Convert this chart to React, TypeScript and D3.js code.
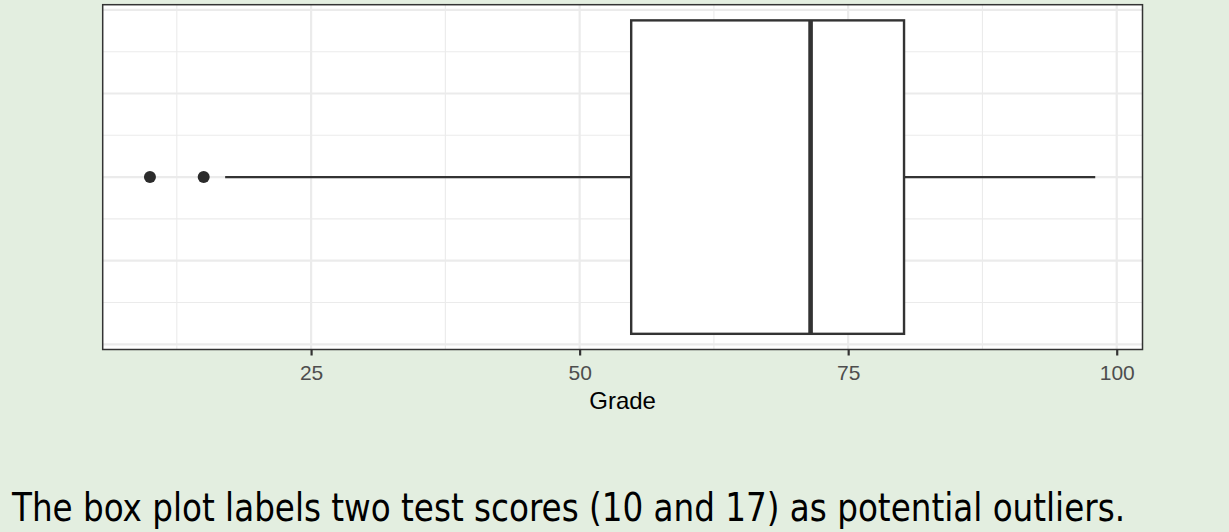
import React, { useRef, useEffect } from "react";
import * as d3 from "d3";

// box plot summary
const outliers = [10, 15];
const whiskerLow = 17;
const q1 = 54.8;
const median = 71.5;
const q3 = 80.2;
const whiskerHigh = 98;
const xMajorTicks = [25, 50, 75, 100];
const xMinorTicks = [12.5, 37.5, 62.5, 87.5];
const yMajorTicks = [-0.4, -0.2, 0, 0.2, 0.4];
const yMinorTicks = [-0.3, -0.1, 0.1, 0.3];
const xLabel = "Grade";
const caption = "The box plot labels two test scores (10 and 17) as potential outliers.";

const App = () => {
    const ref = useRef<SVGSVGElement>(null);

    useEffect(() => {
        const svgWidth = 1229;
        const svgHeight = 532;
        const panel = { left: 102.7, right: 1142.5, top: 4.7, bottom: 349.5 };
        const bg = "#e3eee0";
        const gridColor = "#ebebeb";
        const darkColor = "#333333";
        const sansFont = "'Liberation Sans', Arial, sans-serif";

        const svg = d3.select(ref.current)
            .attr("width", svgWidth)
            .attr("height", svgHeight);
        svg.selectAll("*").remove();

        svg.append("rect")
            .attr("width", svgWidth)
            .attr("height", svgHeight)
            .attr("fill", bg);

        // data range 10..98 with ggplot's 5% expansion
        const lo = d3.min([...outliers, whiskerLow]) as number;
        const pad = (whiskerHigh - lo) * 0.05;
        const xScale = d3.scaleLinear()
            .domain([lo - pad, whiskerHigh + pad])
            .range([panel.left, panel.right]);

        const yScale = d3.scaleLinear()
            .domain([-0.4125, 0.4125])
            .range([panel.bottom, panel.top]);

        svg.append("rect")
            .attr("x", panel.left)
            .attr("y", panel.top)
            .attr("width", panel.right - panel.left)
            .attr("height", panel.bottom - panel.top)
            .attr("fill", "white");

        // grid lines
        const grid = svg.append("g");
        grid.selectAll(".vminor").data(xMinorTicks).join("line")
            .attr("x1", d => xScale(d)).attr("x2", d => xScale(d))
            .attr("y1", panel.top).attr("y2", panel.bottom)
            .attr("stroke", gridColor).attr("stroke-width", 1.1);
        grid.selectAll(".hminor").data(yMinorTicks).join("line")
            .attr("x1", panel.left).attr("x2", panel.right)
            .attr("y1", d => yScale(d)).attr("y2", d => yScale(d))
            .attr("stroke", gridColor).attr("stroke-width", 1.1);
        grid.selectAll(".vmajor").data(xMajorTicks).join("line")
            .attr("x1", d => xScale(d)).attr("x2", d => xScale(d))
            .attr("y1", panel.top).attr("y2", panel.bottom)
            .attr("stroke", gridColor).attr("stroke-width", 2.2);
        grid.selectAll(".hmajor").data(yMajorTicks).join("line")
            .attr("x1", panel.left).attr("x2", panel.right)
            .attr("y1", d => yScale(d)).attr("y2", d => yScale(d))
            .attr("stroke", gridColor).attr("stroke-width", 2.2);

        const yMid = yScale(0);

        // whiskers
        svg.append("line")
            .attr("x1", xScale(whiskerLow)).attr("x2", xScale(q1))
            .attr("y1", yMid).attr("y2", yMid)
            .attr("stroke", darkColor).attr("stroke-width", 2.2);
        svg.append("line")
            .attr("x1", xScale(q3)).attr("x2", xScale(whiskerHigh))
            .attr("y1", yMid).attr("y2", yMid)
            .attr("stroke", darkColor).attr("stroke-width", 2.2);

        // box
        svg.append("rect")
            .attr("x", xScale(q1))
            .attr("y", yScale(0.375))
            .attr("width", xScale(q3) - xScale(q1))
            .attr("height", yScale(-0.375) - yScale(0.375))
            .attr("fill", "white")
            .attr("stroke", darkColor)
            .attr("stroke-width", 2.4);

        svg.append("line")
            .attr("x1", xScale(median)).attr("x2", xScale(median))
            .attr("y1", yScale(0.375)).attr("y2", yScale(-0.375))
            .attr("stroke", darkColor).attr("stroke-width", 4.6);

        // outliers
        svg.selectAll(".outlier").data(outliers).join("circle")
            .attr("cx", d => xScale(d))
            .attr("cy", yMid)
            .attr("r", 6)
            .attr("fill", "#2b2b2b");

        // panel border
        svg.append("rect")
            .attr("x", panel.left)
            .attr("y", panel.top)
            .attr("width", panel.right - panel.left)
            .attr("height", panel.bottom - panel.top)
            .attr("fill", "none")
            .attr("stroke", darkColor)
            .attr("stroke-width", 1.5);

        // x axis
        const xAxis = svg.append("g")
            .attr("transform", `translate(0,${panel.bottom})`)
            .attr("font-size", 21)
            .attr("font-family", sansFont)
            .call(d3.axisBottom(xScale).tickValues(xMajorTicks).tickSize(6).tickPadding(4).tickFormat(d3.format("d")));
        xAxis.select(".domain").remove();
        xAxis.selectAll(".tick line")
            .attr("stroke", darkColor)
            .attr("stroke-width", 2.2);
        xAxis.selectAll(".tick text")
            .attr("fill", "#4d4d4d")
            .attr("dy", null)
            .attr("y", 30)
            .style("font-size", "21px");

        svg.append("text")
            .attr("x", (panel.left + panel.right) / 2)
            .attr("y", 409)
            .attr("text-anchor", "middle")
            .style("font-family", sansFont)
            .style("font-size", "24px")
            .attr("fill", "black")
            .text(xLabel);

        svg.append("text")
            .attr("x", 12)
            .attr("y", 521)
            .style("font-family", "'Liberation Sans Narrow', 'DejaVu Sans Condensed', 'Liberation Sans', sans-serif")
            .style("font-size", "39px")
            .attr("fill", "black")
            .attr("textLength", 1113)
            .attr("lengthAdjust", "spacingAndGlyphs")
            .text(caption);
    }, []);

    return (
        <div style={{ position: "fixed", left: 0, top: 0 }}>
            <svg ref={ref} style={{ display: "block" }}></svg>
        </div>
    );
};

export default App;
